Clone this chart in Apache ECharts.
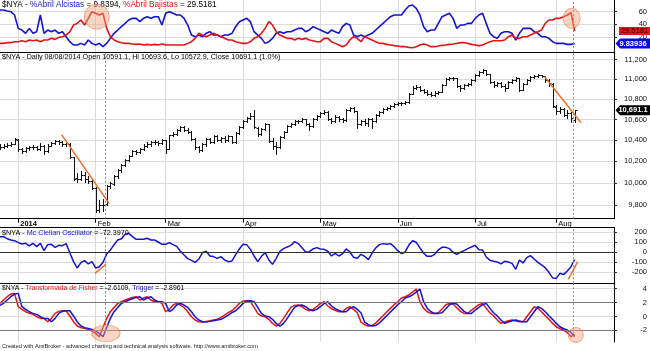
<!DOCTYPE html>
<html><head><meta charset="utf-8">
<script src="https://cdn.jsdelivr.net/npm/echarts@6/dist/echarts.min.js"></script>
<style>html,body{margin:0;padding:0;background:#fff}#c{width:650px;height:351px}</style>
</head><body><div id="c"></div>
<script>
// ---- axis ticks / labels ----
const monthTicks = [5, 26, 45, 66, 87, 108, 129, 151];
const monthLabels = ['2014', 'Feb', 'Mar', 'Apr', 'May', 'Jun', 'Jul', 'Aug'];
const abrilTicks = [20, 40, 60];
const priceTicks = [9800, 10000, 10200, 10400, 10600, 10800, 11000, 11200];
const mcTicks = [-200, -100, 0, 100, 200];
const fisherTicks = [-2, 0, 2, 4];

// ---- price OHLC (Dec 24 2013 .. Aug 8 2014) ----
const priceOpen = [
10340,10335,10350,10355,10365,10405,10315,10300,10325,10335,
10335,10320,10350,10295,10350,10370,10390,10380,10360,10365,
10240,10045,10040,10070,10040,10020,9954,9753,9800,9809,
9973,9995,10060,10120,10170,10215,10255,10295,10285,10315,
10350,10360,10380,10380,10370,10400,10320,10450,10460,10500,
10525,10500,10480,10410,10335,10305,10360,10410,10380,10440,
10400,10420,10400,10440,10380,10470,10525,10585,10615,10635,
10520,10460,10505,10555,10390,10345,10340,10430,10480,10535,
10555,10585,10585,10605,10555,10535,10605,10635,10660,10670,
10605,10585,10625,10605,10595,10690,10710,10680,10555,10585,
10565,10605,10585,10645,10670,10700,10710,10730,10750,10760,
10760,10770,10855,10915,10925,10895,10875,10855,10845,10865,
10875,10945,11000,11010,11010,10935,10915,10945,10955,10990,
11040,11070,11090,11050,10970,10945,10960,10935,10915,10970,
10990,11010,10895,10955,10990,11020,11030,11040,11030,10990,
10955,10725,10680,10700,10645,10660,10591.1];
const priceHigh = [
10360,10365,10370,10380,10420,10410,10330,10340,10350,10355,
10345,10375,10355,10360,10385,10405,10400,10390,10385,10370,
10245,10090,10110,10100,10060,10040,9964,9847,9857,9983,
10010,10070,10130,10180,10225,10265,10310,10305,10330,10360,
10385,10395,10400,10395,10415,10405,10455,10480,10510,10540,
10535,10515,10490,10420,10345,10375,10420,10425,10455,10450,
10435,10440,10455,10445,10480,10535,10595,10625,10660,10690,
10530,10515,10565,10560,10420,10385,10440,10490,10545,10565,
10595,10600,10615,10610,10565,10615,10645,10670,10690,10680,
10620,10640,10635,10615,10700,10725,10720,10680,10600,10610,
10620,10615,10655,10680,10710,10720,10740,10760,10775,10775,
10785,10860,10930,10945,10935,10905,10890,10870,10880,10885,
10950,11010,11020,11025,11015,10945,10955,10965,11000,11050,
11080,11105,11095,11055,10980,10975,10970,10950,10980,11000,
11020,11010,10965,11000,11030,11040,11055,11045,11035,11000,
10960,10740,10720,10710,10690,10670,10693.6];
const priceLow = [
10320,10330,10340,10345,10360,10300,10280,10290,10310,10315,
10305,10310,10270,10290,10345,10360,10365,10350,10345,10230,
10030,10006,10030,10010,9997,9945,9735,9735,9744,9800,
9950,9985,10050,10105,10160,10200,10250,10270,10275,10310,
10335,10345,10360,10355,10360,10280,10320,10440,10450,10490,
10485,10470,10400,10320,10290,10300,10350,10370,10370,10390,
10385,10385,10395,10370,10375,10465,10520,10575,10605,10515,
10440,10450,10495,10385,10320,10270,10330,10420,10475,10525,
10545,10570,10575,10545,10500,10530,10595,10625,10650,10595,
10565,10575,10590,10575,10590,10680,10670,10520,10545,10550,
10540,10520,10580,10635,10660,10690,10700,10720,10740,10745,
10750,10765,10850,10900,10880,10860,10840,10830,10835,10850,
10870,10940,10990,10995,10920,10880,10905,10935,10945,10985,
11035,11065,11040,10960,10920,10935,10920,10880,10910,10965,
10980,10880,10890,10950,10985,11015,11025,11020,10975,10930,
10720,10650,10660,10630,10620,10580,10572.9];
const priceClose = [
10335,10350,10355,10365,10410,10315,10300,10325,10335,10335,
10320,10350,10295,10350,10370,10390,10380,10360,10370,10245,
10040,10040,10070,10040,10020,9954,9753,9800,9800,9973,
10001,10060,10120,10170,10215,10255,10295,10285,10315,10350,
10360,10380,10380,10370,10400,10315,10450,10460,10500,10525,
10500,10480,10410,10335,10305,10360,10410,10380,10440,10400,
10420,10400,10440,10380,10470,10525,10585,10615,10635,10525,
10460,10505,10555,10390,10345,10335,10430,10480,10535,10555,
10585,10585,10605,10555,10535,10605,10635,10660,10670,10605,
10585,10625,10605,10595,10690,10710,10680,10555,10585,10565,
10605,10585,10645,10670,10700,10710,10730,10750,10760,10760,
10770,10855,10915,10925,10895,10875,10855,10845,10865,10875,
10945,11000,11010,11010,10935,10915,10945,10955,10990,11040,
11070,11090,11050,10970,10945,10960,10935,10915,10970,10990,
11010,10895,10955,10990,11020,11030,11040,11030,10990,10960,
10730,10680,10700,10645,10660,10615,10691.1];

// ---- %Abril ----
const abrilAlcistas = [
62.5,62.5,60.9,59.9,54.7,33.6,31.0,25.8,33.6,25.8,
28.4,54.7,25.8,31.0,28.4,31.0,25.8,28.4,20.5,12.6,
7.4,7.4,10.0,7.4,15.3,10.0,7.4,10.0,4.8,10.0,
17.9,25.8,31.0,36.3,41.5,46.8,49.4,49.4,44.1,49.4,
52.0,49.4,52.0,52.0,38.9,57.3,59.9,57.3,54.7,54.7,
49.4,38.9,23.1,20.5,23.1,20.5,25.8,28.4,23.1,23.1,
20.5,23.1,23.1,25.8,36.3,44.1,46.8,49.4,44.1,28.4,
23.1,17.9,10.0,12.6,17.9,25.8,28.4,25.8,28.4,28.4,
31.0,33.6,33.6,28.4,31.0,36.3,33.6,31.0,28.4,25.8,
31.0,28.4,25.8,36.3,41.5,38.9,23.1,20.5,23.1,20.5,
23.1,25.8,31.0,36.3,41.5,46.8,52.0,54.7,54.7,54.7,
62.5,68.8,70.4,65.1,54.7,36.3,28.4,31.0,31.0,41.5,
52.0,54.7,57.3,49.4,33.6,38.9,38.9,41.5,41.5,49.4,
54.7,57.3,41.5,25.8,20.5,17.9,25.8,28.4,28.4,25.8,
15.3,25.8,33.6,33.6,33.6,28.4,25.8,20.5,20.5,17.9,
12.6,10.0,10.0,10.0,8.4,8.4,9.8394];
const abrilBajistas = [
10.0,10.0,11.1,11.1,12.6,12.6,14.2,12.6,15.3,14.2,
15.3,12.6,15.3,15.3,17.9,16.3,19.4,20.5,23.1,28.4,
38.9,41.5,46.8,38.9,49.4,59.9,57.3,54.7,57.3,33.6,
20.5,15.3,12.6,11.1,10.0,10.0,9.0,8.4,9.0,7.4,
8.4,7.4,8.4,7.4,9.0,7.4,7.4,7.4,7.4,7.4,
7.4,10.0,12.6,17.9,25.8,23.1,20.5,23.1,25.8,23.1,
20.5,17.9,15.3,15.3,12.6,11.1,10.0,10.0,12.6,17.9,
20.5,25.8,33.6,44.1,38.9,28.4,23.1,20.5,17.9,17.9,
15.3,17.9,16.3,17.9,15.3,14.2,12.6,12.6,17.9,17.9,
12.6,10.0,7.4,4.8,7.4,15.3,20.5,17.9,12.6,20.5,
17.9,15.3,12.6,10.0,10.0,8.4,7.4,6.4,5.8,4.8,
4.8,3.7,3.2,4.8,7.4,9.0,7.4,4.8,4.8,5.8,
6.9,7.4,8.4,9.0,10.0,11.1,11.1,10.0,8.4,7.4,
6.4,7.4,10.0,12.6,14.2,14.2,14.2,15.3,20.5,23.1,
17.9,17.9,20.5,20.5,23.1,25.8,28.4,31.0,41.5,46.8,
46.8,49.4,49.4,52.0,54.7,58.3,29.5181];

// ---- McClellan oscillator ----
const mcClellan = [
154,154,134,121,114,95,81,88,62,88,
55,88,15,75,78,48,68,65,85,-5,
-94,-157,-104,-84,-117,-94,-157,-144,-101,-18,
22,75,121,134,177,187,154,128,128,128,
138,121,121,101,78,78,95,75,58,9,
-28,-64,-81,-101,-68,-5,9,-38,-44,-61,
-44,-78,-94,-87,-25,32,78,75,28,-38,
-94,-41,-5,-78,-121,-61,9,35,52,68,
105,85,45,2,5,32,45,32,28,9,
-38,-11,-38,-15,32,2,-51,-61,-21,-41,
-74,-11,42,75,85,78,85,55,15,-15,
2,71,114,98,42,-11,-41,-41,-21,22,
48,48,35,-1,-21,-1,15,35,52,68,
25,22,-48,-81,-91,-97,-117,-91,-97,-111,
-170,-78,-107,-54,-34,-68,-101,-127,-154,-200,
-256,-260,-210,-223,-187,-144,-72.397];

// ---- Fisher transform & trigger ----
const fisher = [
1.89,2.37,2.85,3.23,3.33,1.41,1.03,0.69,0.45,0.31,
-0.03,-0.27,-0.27,-0.75,-0.27,0.45,0.74,0.83,0.83,0.07,
-0.75,-1.37,-1.61,-1.71,-1.85,-2.09,-2.43,-2.91,-1.57,-0.27,
0.69,1.31,1.89,2.13,2.37,2.56,2.75,2.85,2.37,2.66,
2.85,2.37,2.13,2.13,1.89,0.69,1.03,1.65,1.89,1.65,
1.31,0.69,-0.03,-0.51,-0.75,-0.80,-0.70,-0.61,-0.51,-0.41,
-0.13,0.21,0.55,0.83,1.31,1.89,2.23,2.27,2.13,1.31,
0.45,0.07,-0.03,-0.41,-0.99,-1.37,-0.99,-0.27,0.55,1.31,
1.60,1.65,1.41,1.03,0.83,1.03,1.41,1.89,2.13,1.51,
1.12,0.88,0.69,0.69,1.17,1.41,1.03,0.55,-0.80,-1.18,
-1.37,-1.28,-0.94,-0.41,0.11,0.64,1.17,1.70,2.13,2.66,
2.85,3.09,3.52,3.95,2.13,1.17,0.69,0.45,0.45,0.55,
1.07,1.70,1.89,1.79,1.27,0.74,0.45,0.45,0.93,1.31,
1.70,1.89,1.17,0.55,0.07,-0.51,-0.99,-0.80,-0.61,-0.51,
-0.65,-0.75,-0.75,-0.03,0.69,1.41,1.17,0.69,0.11,-0.41,
-0.99,-1.47,-1.76,-1.95,-2.30,-2.90,-2.6109];
const trigger = [
1.60,1.89,2.37,2.85,3.23,3.33,1.41,1.03,0.69,0.45,
0.31,-0.03,-0.27,-0.27,-0.75,-0.27,0.45,0.74,0.83,0.83,
0.07,-0.75,-1.37,-1.61,-1.71,-1.85,-2.09,-2.43,-2.91,-1.57,
-0.27,0.69,1.31,1.89,2.13,2.37,2.56,2.75,2.85,2.37,
2.66,2.85,2.37,2.13,2.13,1.89,0.69,1.03,1.65,1.89,
1.65,1.31,0.69,-0.03,-0.51,-0.75,-0.80,-0.70,-0.61,-0.51,
-0.41,-0.13,0.21,0.55,0.83,1.31,1.89,2.23,2.27,2.13,
1.31,0.45,0.07,-0.03,-0.41,-0.99,-1.37,-0.99,-0.27,0.55,
1.31,1.60,1.65,1.41,1.03,0.83,1.03,1.41,1.89,2.13,
1.51,1.12,0.88,0.69,0.69,1.17,1.41,1.03,0.55,-0.80,
-1.18,-1.37,-1.28,-0.94,-0.41,0.11,0.64,1.17,1.70,2.13,
2.66,2.85,3.09,3.52,3.95,2.13,1.17,0.69,0.45,0.45,
0.55,1.07,1.70,1.89,1.79,1.27,0.74,0.45,0.45,0.93,
1.31,1.70,1.89,1.17,0.55,0.07,-0.51,-0.99,-0.80,-0.61,
-0.51,-0.65,-0.75,-0.75,-0.03,0.69,1.41,1.17,0.69,0.11,
-0.41,-0.99,-1.47,-1.76,-1.95,-2.30,-2.8961];

// ---- annotations (data coordinates) ----
const priceTrend1 = [[16.8, 10452], [29.7, 9812]];
const priceTrend2 = [[147.8, 11028], [157.7, 10570]];
const mcTrend1 = [[25.8, -210], [28.8, -120]];
const mcTrend2 = [[154.3, -269], [156.8, -94]];
const cursorLeft = 28.5, cursorRight = 155.6;
const abrilCircles = [[26.3, 52, 25, 25], [155.2, 49.5, 17, 20]];
const fisherCircles = [[28.8, -2.42, 28, 17], [156.3, -2.66, 15, 15]];

// ---- layout ----
const FONT = 'Arial, "Liberation Sans", sans-serif';
const BLUE = '#1414d2', RED = '#e41414', ORANGE = '#ef6d22';
const XMIN = 0.05, XMAX = 166.67;
const grids = [
  {left: 0, right: 36, top: 0, height: 52},
  {left: 0, right: 36, top: 52, height: 166.7},
  {left: 0, right: 36, top: 227.3, height: 56},
  {left: 0, right: 36, top: 283.3, height: 58.7}
];
function xAx(k) {
  return {
    type: 'value', gridIndex: k, min: XMIN, max: XMAX,
    axisLine: {show: k < 3, onZero: false, lineStyle: {color: '#000', width: 1}},
    axisTick: {show: k === 1, customValues: monthTicks, length: 4, lineStyle: {color: '#000'}},
    axisLabel: {show: k === 1, customValues: monthTicks, margin: 1, align: 'left', padding: [0, 0, 0, 2],
      fontSize: 7.5, fontFamily: FONT, color: '#000',
      formatter: v => { const j = monthTicks.indexOf(v); return j === 0 ? '{b|' + monthLabels[0] + '}' : monthLabels[j]; },
      rich: {b: {fontWeight: 'bold', fontSize: 7.5, fontFamily: FONT, color: '#000'}}},
    splitLine: {show: true, lineStyle: {color: '#dadada', width: 1}}
  };
}
function yAx(k, min, max, ticks, fmt, type) {
  return {
    type: type || 'value', gridIndex: k, position: 'right', min: min, max: max, scale: true,
    axisLine: {show: true, lineStyle: {color: '#000'}},
    axisTick: {show: true, customValues: ticks, length: 3, lineStyle: {color: '#333'}},
    axisLabel: {customValues: ticks, align: 'right', margin: 33, fontSize: 7.5, fontFamily: FONT, color: '#111',
      formatter: fmt || (v => String(v))},
    splitLine: {show: true, lineStyle: {color: '#dcdcdc', width: 1}}
  };
}
const pts = arr => arr.map((v, i) => [i, v]);
const lineSeries = (k, arr, color, w, extra) => Object.assign({
  type: 'line', xAxisIndex: k, yAxisIndex: k, data: pts(arr), showSymbol: false, symbol: 'none',
  lineStyle: {color: color, width: w}, itemStyle: {color: color}, silent: true, clip: true, z: 3
}, extra || {});
const dotted = {color: ORANGE, type: [2, 2], width: 1};
const mk = (lines) => ({symbol: 'none', silent: true, label: {show: false}, lineStyle: dotted, data: lines, animation: false});
const circle = (k, c) => ({
  type: 'scatter', xAxisIndex: k, yAxisIndex: k, silent: true, z: 6,
  data: c.map(p => ({value: [p[0], p[1]], symbolSize: [p[2], p[3]]})),
  symbol: 'circle',
  itemStyle: {color: 'rgba(246,160,120,0.55)', borderColor: 'rgba(236,120,70,0.75)', borderWidth: 1}
});

const ohlc = priceClose.map((c, i) => [i, priceOpen[i], priceHigh[i], priceLow[i], c]);
const rs = (color, size) => ({color: color, fontSize: size, fontFamily: FONT, fontWeight: 'normal', lineHeight: size + 1.5});
const richFor = s => ({k: rs('#000', s), b: rs(BLUE, s), r: rs(RED, s), f: rs('#222', s)});

const option = {
  animation: false,
  backgroundColor: '#fff',
  grid: grids,
  xAxis: [xAx(0), xAx(1), xAx(2), xAx(3),
    {type: 'value', gridIndex: 2, position: 'top', min: XMIN, max: XMAX, axisLine: {show: true, onZero: false, lineStyle: {color: '#000'}},
     axisTick: {show: false}, axisLabel: {show: false}, splitLine: {show: false}}],
  yAxis: [
    yAx(0, -3.6, 78.3, abrilTicks),
    yAx(1, 9677, 11279, priceTicks, v => Math.round(v).toLocaleString('en-US'), 'log'),
    yAx(2, -309, 247, mcTicks),
    yAx(3, -3.67, 4.78, fisherTicks)
  ],
  title: [
    {left: 2, top: 0, s: 8.2, text: '{k|$NYA - }{b|%Abril Alcistas}{k| = 9.8394, }{r|%Abril Bajistas}{k| = 29.5181}'},
    {left: 2, top: 52.8, s: 7.2, text: '{k|$NYA - Daily 08/08/2014 Open 10591.1, Hi 10693.6, Lo 10572.9, Close 10691.1 (1.0%)}'},
    {left: 2, top: 228.6, s: 7.2, text: '{k|$NYA - }{b|Mc Clellan Oscillator}{k| = -72.3970}'},
    {left: 2, top: 284.3, s: 6.8, text: '{k|$NYA - }{r|Transformada de Fisher}{k| = -2.6109, }{b|Trigger}{k| = -2.8961}'},
    {left: 2, top: 343, s: 5.6, text: '{f|Created with AmiBroker - advanced charting and technical analysis software. http://www.amibroker.com}'}
  ].map(t => ({left: t.left, top: t.top, text: t.text, padding: 0,
     textStyle: {fontWeight: 'normal', fontSize: t.s, rich: richFor(t.s)}})),
  series: [
    // top panel
    lineSeries(0, abrilAlcistas, BLUE, 1.6, {markLine: mk([{xAxis: cursorRight}])}),
    lineSeries(0, abrilBajistas, RED, 1.6),
    circle(0, abrilCircles),
    // price panel
    {type: 'custom', xAxisIndex: 1, yAxisIndex: 1, data: ohlc, clip: true, silent: true, z: 3,
     encode: {x: 0, y: [2, 3]},
     renderItem: function (params, api) {
       const x = api.value(0);
       const h = api.coord([x, api.value(2)]);
       const l = api.coord([x, api.value(3)]);
       const o = api.coord([x, api.value(1)]);
       const c = api.coord([x, api.value(4)]);
       const px = Math.round(h[0]) + 0.5;
       const st = {stroke: '#111', lineWidth: 1};
       return {type: 'group', children: [
         {type: 'line', shape: {x1: px, y1: Math.round(h[1]), x2: px, y2: Math.round(l[1]) + 1}, style: st},
         {type: 'line', shape: {x1: px - 2, y1: Math.round(o[1]) + 0.5, x2: px, y2: Math.round(o[1]) + 0.5}, style: st},
         {type: 'line', shape: {x1: px, y1: Math.round(c[1]) + 0.5, x2: px + 2, y2: Math.round(c[1]) + 0.5}, style: st}
       ]};
     }},
    {type: 'line', xAxisIndex: 1, yAxisIndex: 1, data: priceTrend1, symbol: 'none', silent: true, z: 4,
     lineStyle: {color: ORANGE, width: 1.5}, markLine: mk([{xAxis: cursorLeft}, {xAxis: cursorRight}])},
    {type: 'line', xAxisIndex: 1, yAxisIndex: 1, data: priceTrend2, symbol: 'none', silent: true, z: 4,
     lineStyle: {color: ORANGE, width: 1.5}},
    // McClellan
    lineSeries(2, mcClellan, BLUE, 1.5, {markLine: {symbol: 'none', silent: true, label: {show: false}, animation: false,
      data: [{yAxis: 0, lineStyle: {color: '#333', type: 'solid', width: 1}},
             {xAxis: cursorLeft, lineStyle: dotted},
             {xAxis: cursorRight, lineStyle: dotted}]}}),
    {type: 'line', xAxisIndex: 2, yAxisIndex: 2, data: mcTrend1, symbol: 'none', silent: true, z: 4, lineStyle: {color: ORANGE, width: 1.5}},
    {type: 'line', xAxisIndex: 2, yAxisIndex: 2, data: mcTrend2, symbol: 'none', silent: true, z: 4, lineStyle: {color: ORANGE, width: 1.5}},
    // Fisher
    lineSeries(3, fisher, RED, 1.5, {markLine: {symbol: 'none', silent: true, label: {show: false}, animation: false,
      data: [{yAxis: 2, lineStyle: {color: '#777', type: 'solid', width: 1}},
             {yAxis: -2, lineStyle: {color: '#777', type: 'solid', width: 1}},
             [{coord: [cursorLeft, 4.78], lineStyle: dotted}, {coord: [cursorLeft, -2.2]}],
             [{coord: [cursorRight, 4.78], lineStyle: dotted}, {coord: [cursorRight, -2.6]}]]}}),
    lineSeries(3, trigger, BLUE, 1.5, {z: 4}),
    circle(3, fisherCircles)
  ]
};

const chart = echarts.init(document.getElementById('c'), null, {renderer: 'canvas'});
chart.setOption(option);

// value badges on the right axis, placed through the axes' scales
const last = priceClose.length - 1;
const yR = chart.convertToPixel({gridIndex: 0}, [last, abrilBajistas[last]])[1];
const yB = chart.convertToPixel({gridIndex: 0}, [last, abrilAlcistas[last]])[1];
const yP = chart.convertToPixel({gridIndex: 1}, [last, priceClose[last]])[1];
const AX = 614;
function arrow(y, fill, text, tcol) {
  return [
    {type: 'polygon', z: 100, shape: {points: [[AX + 1.5, y], [AX + 6, y - 5], [650, y - 5], [650, y + 5], [AX + 6, y + 5]]}, style: {fill: fill}},
    {type: 'text', z: 101, style: {text: text, x: 633, y: y, align: 'center', verticalAlign: 'middle', fill: tcol, font: 'bold 7.5px ' + FONT}}
  ];
}
chart.setOption({graphic: [
  {type: 'rect', z: 100, shape: {x: 619, y: yR - 4, width: 31, height: 8}, style: {fill: '#e8141b'}},
  {type: 'text', z: 101, style: {text: abrilBajistas[last].toFixed(4), x: 634.5, y: yR, align: 'center', verticalAlign: 'middle', fill: '#5a0000', font: 'bold 7.5px ' + FONT}},
  ...arrow(yB, '#0a0ae6', '9.83936', '#fff'),
  ...arrow(yP, '#000', priceClose[last].toLocaleString('en-US', {minimumFractionDigits: 1}), '#fff')
]});
</script>
</body></html>
